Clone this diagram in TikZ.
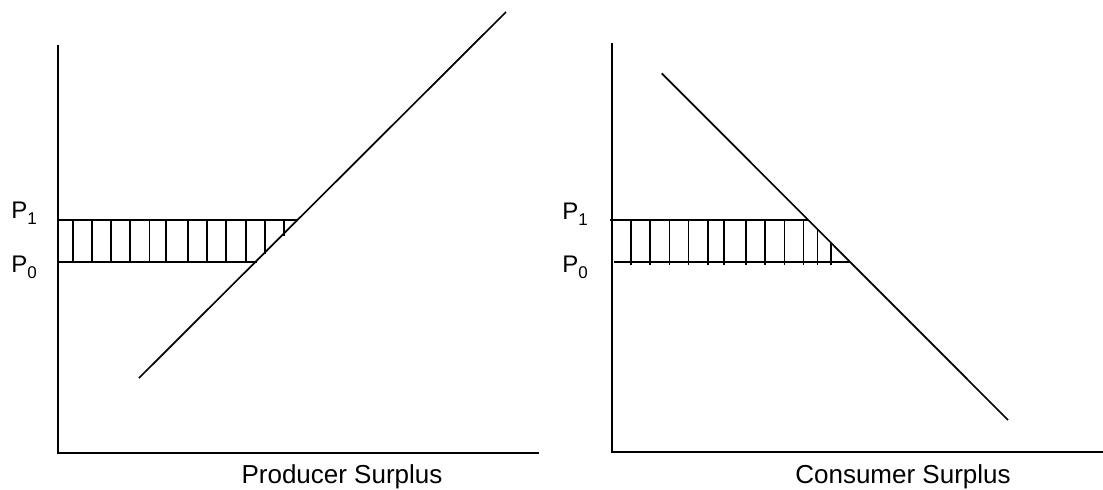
\documentclass[tikz,border=0pt]{standalone}
\usepackage{fontspec}
\setmainfont{Liberation Sans}
\newcommand{\pricesub}[1]{\raisebox{-0.28em}{\fontsize{8.5}{10}\selectfont #1}}
\begin{document}
\begin{tikzpicture}[x=0.5pt,y=-0.5pt,
  axisline/.style={line width=1pt},
  curveline/.style={line width=0.85pt},
  hatchline/.style={line width=0.8pt},
  pricelabel/.style={anchor=base west,inner sep=0pt,font=\fontsize{12}{14}\selectfont},
  caption/.style={anchor=base,inner sep=0pt,font=\fontsize{13}{15}\selectfont}]
\useasboundingbox (0,0) rectangle (1103,489);

% Producer surplus (left)
\coordinate (lorigin) at (58,453);
\draw[axisline] (58,45) -- (lorigin) -- (539,453);  % axes
\draw[hatchline] (58,220) -- (297,220);  % P1
\draw[hatchline] (58,262) -- (257,262);  % P0
\foreach \x/\yend in {72.7/262,91.7/262,111/262,130/262,149.3/262,166/262,187.7/262,206.7/262,226/262,245.7/262,265/254,284/236}
  \draw[hatchline] (\x,220) -- (\x,\yend);
% supply line
\draw[curveline] (139,378) -- (506,12);
\node[pricelabel] (lp1) at (11,218) {P\pricesub{1}};
\node[pricelabel] (lp0) at (11,272) {P\pricesub{0}};
\node[caption] (lcap) at (342,483) {Producer Surplus};

% Consumer surplus (right)
\coordinate (rorigin) at (611.7,452);
\draw[axisline] (611.7,43) -- (rorigin) -- (1103,452);  % axes
\draw[hatchline] (610,220) -- (808,220);  % P1
\draw[hatchline] (614,262) -- (850,262);  % P0
\foreach \x/\ytop in {630.7/221,650/221,669.3/221,688.3/221,707.7/221,724/221,745.7/221,765/221,784.3/221,803.3/221,817.3/229,830.7/242}
  \draw[hatchline] (\x,\ytop) -- (\x,265);
% demand line
\draw[curveline] (661.7,73.3) -- (1008,420);
\node[pricelabel] (rp1) at (562,219) {P\pricesub{1}};
\node[pricelabel] (rp0) at (562,272) {P\pricesub{0}};
\node[caption] (rcap) at (903,483) {Consumer Surplus};
\end{tikzpicture}
\end{document}
